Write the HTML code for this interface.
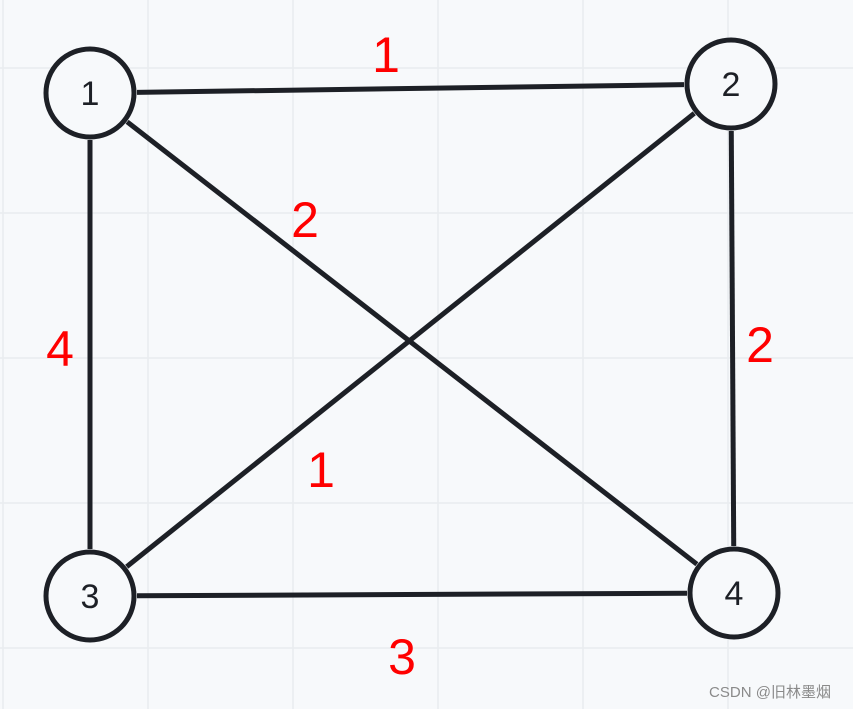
<!DOCTYPE html>
<html><head><meta charset="utf-8"><style>
html,body{margin:0;padding:0;background:#f7f9fb;}
svg{display:block;}
</style></head><body>
<svg width="853" height="709" viewBox="0 0 853 709" font-family="'Liberation Sans','Noto Sans CJK SC',sans-serif">
<g id="grid" stroke="#e9ecef" stroke-width="1.5"></g>
<g id="edges" stroke="#1d2026" stroke-width="5" stroke-linecap="butt"></g>
<g id="nodes"></g>
<g id="weights" fill="#ff0000" font-size="50" text-anchor="middle"></g>
<text x="770" y="697" font-size="15" fill="#8a8a8a" text-anchor="middle">CSDN @旧林墨烟</text>
</svg>
<script>
const nodeLabels=["1","2","3","4"];
const nodeX=[90,731,90,734];
const nodeY=[93,84,596,593];
const edgeFrom=[0,0,0,1,1,2];
const edgeTo=[1,3,2,2,3,3];
const weightText=["1","2","4","2","1","3"];
const weightX=[386,305,60,760,321,402];
const weightY=[72,237,366,362,487,674];
const NS="http://www.w3.org/2000/svg";
const R=44;
const grid=document.getElementById('grid');
for(let x=3;x<853;x+=145){const l=document.createElementNS(NS,'line');l.setAttribute('x1',x);l.setAttribute('x2',x);l.setAttribute('y1',0);l.setAttribute('y2',709);

grid.appendChild(l);}
for(let y=68;y<709;y+=145){const l=document.createElementNS(NS,'line');l.setAttribute('y1',y);l.setAttribute('y2',y);l.setAttribute('x1',0);l.setAttribute('x2',853);

grid.appendChild(l);}
const eg=document.getElementById('edges');
edgeFrom.forEach((a,i)=>{const b=edgeTo[i];
const dx=nodeX[b]-nodeX[a],dy=nodeY[b]-nodeY[a],d=Math.hypot(dx,dy),g=R+3;
const l=document.createElementNS(NS,'line');
l.setAttribute('x1',nodeX[a]+dx/d*g);l.setAttribute('y1',nodeY[a]+dy/d*g);
l.setAttribute('x2',nodeX[b]-dx/d*g);l.setAttribute('y2',nodeY[b]-dy/d*g);


eg.appendChild(l);});
const ng=document.getElementById('nodes');
nodeLabels.forEach((t,i)=>{const g=document.createElementNS(NS,'g');


const c=document.createElementNS(NS,'circle');c.setAttribute('cx',nodeX[i]);c.setAttribute('cy',nodeY[i]);c.setAttribute('r',R);
c.setAttribute('fill','#f7f9fb');c.setAttribute('stroke','#1d2026');c.setAttribute('stroke-width','5');
const tx=document.createElementNS(NS,'text');tx.setAttribute('x',nodeX[i]);tx.setAttribute('y',nodeY[i]+12);
tx.setAttribute('font-size','34');tx.setAttribute('text-anchor','middle');tx.setAttribute('fill','#1d2026');tx.textContent=t;


g.appendChild(c);g.appendChild(tx);ng.appendChild(g);});
const wg=document.getElementById('weights');
weightText.forEach((t,i)=>{const tx=document.createElementNS(NS,'text');tx.setAttribute('x',weightX[i]);tx.setAttribute('y',weightY[i]);tx.textContent=t;


wg.appendChild(tx);});
</script>
</body></html>
